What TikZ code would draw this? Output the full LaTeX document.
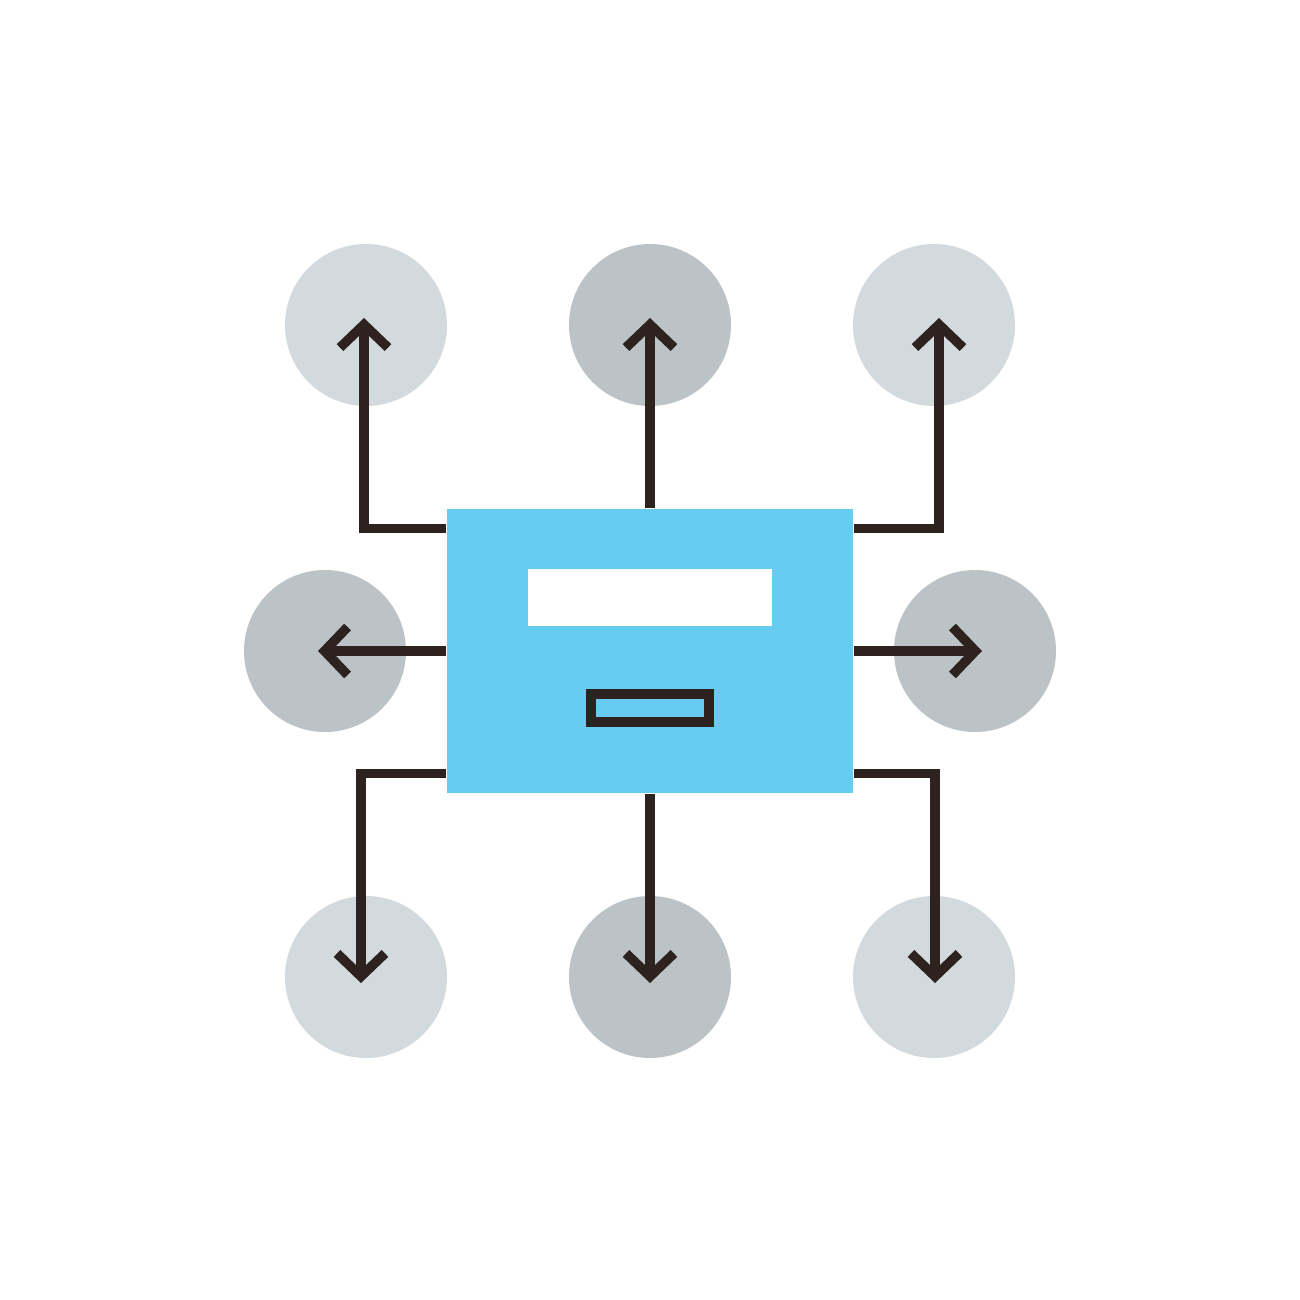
\documentclass[tikz,border=0pt]{standalone}
\usetikzlibrary{arrows.meta}

\definecolor{paledot}{HTML}{D3DADD}
\definecolor{greydot}{HTML}{BBC3C7}
\definecolor{formblue}{HTML}{66CCF0}
\definecolor{ink}{HTML}{2D221E}

\tikzstyle{dot}=[circle,minimum size=16.2mm,inner sep=0pt]
\tikzstyle{panel}=[fill=formblue,minimum width=40.6mm,minimum height=28.4mm,inner sep=0pt]
\tikzstyle{field}=[fill=white,minimum width=24.4mm,minimum height=5.7mm,inner sep=0pt]
\tikzstyle{button}=[draw=ink,line width=0.95mm,fill=formblue,minimum width=11.8mm,minimum height=2.8mm,inner sep=0pt]
\tikzstyle{link}=[draw=ink,line width=0.95mm,-{Straight Barb[length=2.3mm,width=4.8mm]}]

\begin{document}
\begin{tikzpicture}[x=0.1mm, y=-0.1mm]
    \useasboundingbox[fill=white] (0,0) rectangle (1300,1300);
    % First we draw the outer dots
    \foreach \pos/\name/\shade in {{(366,325)/tl/paledot}, {(650,325)/tm/greydot}, {(934,325)/tr/paledot},
        {(325,651)/ml/greydot}, {(975,651)/mr/greydot},
        {(366,977)/bl/paledot}, {(650,977)/bm/greydot}, {(934,977)/br/paledot}}
        \node[dot,fill=\shade] (\name) at \pos {};
    % The form in the middle
    \node[panel] (box) at (650,651) {};
    \node[field] (entry) at (650,597) {};
    \node[button] (submit) at (650,708) {};
    % Straight arrows out of the form
    \path[link] (box.north) -- ([yshift=0.7mm]tm.center);
    \path[link] (box.south) -- ([yshift=-0.6mm]bm.center);
    \path[link] (box.west) -- ([xshift=-0.7mm]ml.center);
    \path[link] (box.east) -- ([xshift=0.7mm]mr.center);
    % Bent arrows to the corner dots
    \path[link] ([yshift=-2mm]box.north west) -| ([xshift=-0.2mm,yshift=0.7mm]tl.center);
    \path[link] ([yshift=-2mm]box.north east) -| ([xshift=0.5mm,yshift=0.7mm]tr.center);
    \path[link] ([yshift=2mm]box.south west) -| ([xshift=-0.5mm,yshift=-0.6mm]bl.center);
    \path[link] ([yshift=2mm]box.south east) -| ([xshift=0.1mm,yshift=-0.6mm]br.center);
\end{tikzpicture}
\end{document}
